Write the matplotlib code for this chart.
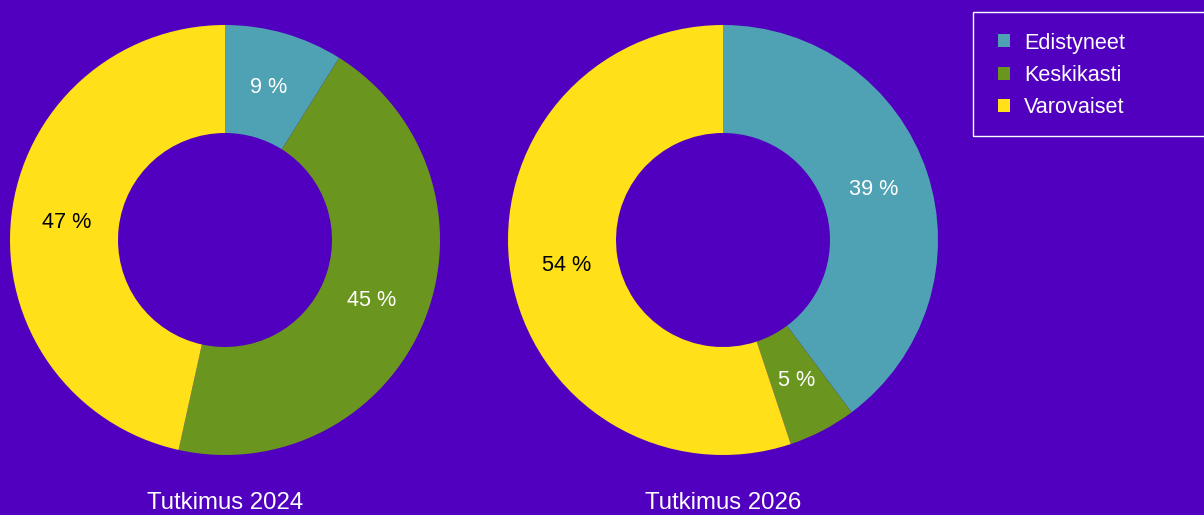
import math
import matplotlib
matplotlib.use("Agg")
import matplotlib.pyplot as plt
from matplotlib.patches import Patch, Rectangle

plt.rcParams['font.family'] = ['Liberation Sans', 'DejaVu Sans']

categories = ["Edistyneet", "Keskikasti", "Varovaiset"]
values_2024 = [9, 45, 47]
values_2026 = [39, 5, 54]
titles = ["Tutkimus 2024", "Tutkimus 2026"]
colors = ["#4FA1B4", "#6A961F", "#FFE019"]
label_colors = ["white", "white", "black"]
bg = "#5000BE"

W, H = 1204, 515
fig = plt.figure(figsize=(W / 100, H / 100), dpi=100, facecolor=bg)

R_PX = 215
centers = [(225, 240), (723, 240)]
inner = 107 / 215

for (cx, cy), vals, title in zip(centers, [values_2024, values_2026], titles):
    ax = fig.add_axes([(cx - R_PX) / W, (H - cy - R_PX) / H, 2 * R_PX / W, 2 * R_PX / H])
    ax.set_facecolor(bg)
    ax.pie(vals, colors=colors, startangle=90, counterclock=False,
           radius=1, wedgeprops=dict(width=1 - inner, linewidth=0))
    total = sum(vals)
    start = 90.0
    rmid = (1 + inner) / 2 - 0.01
    for v, lc in zip(vals, label_colors):
        span = 360.0 * v / total
        mid = math.radians(start - span / 2)
        ax.text(rmid * math.cos(mid), rmid * math.sin(mid), f"{v} %",
                ha="center", va="center", color=lc, fontsize=15.6)
        start -= span
    ax.set_xlim(-1, 1)
    ax.set_ylim(-1, 1)
    ax.set_aspect("equal")
    ax.axis("off")
    fig.text(cx / W, 1 - 503 / H, title, ha="center", va="center",
             color="white", fontsize=17.3)

# legend frame
fig.patches.append(Rectangle((972.5 / W, (H - 136) / H), 240 / W, 124 / H,
                             transform=fig.transFigure, facecolor="none",
                             edgecolor="white", linewidth=1.0))
handles = [Patch(facecolor=c, edgecolor="none") for c in colors]
leg = fig.legend(handles, categories, loc="upper left",
                 bbox_to_anchor=(978 / W, 1 - 13 / H),
                 frameon=False,
                 fontsize=15.6, labelcolor="white", handlelength=0.56, handleheight=0.56,
                 handletextpad=0.68, borderpad=0.9, labelspacing=0.52, borderaxespad=0)

fig.savefig("out.png", dpi=100, facecolor=bg)
